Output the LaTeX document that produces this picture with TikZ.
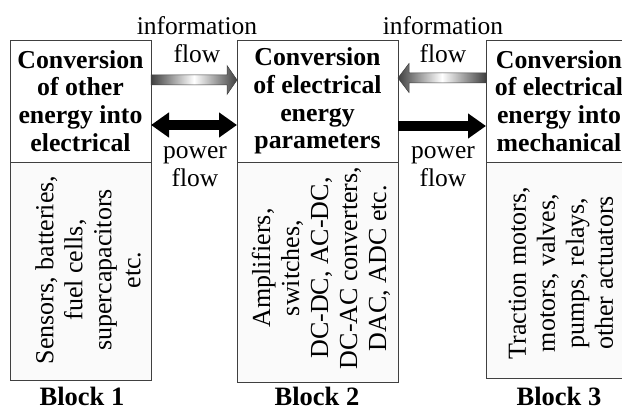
\documentclass[tikz,border=0pt]{standalone}
\usepackage{fontspec}
\setmainfont{Liberation Serif}
\usetikzlibrary{arrows.meta,positioning,calc}
\tikzset{
  headbox/.style={draw=black!75, line width=0.8pt, outer sep=0pt, inner sep=0pt, minimum height=122pt, align=center, font=\fontsize{25.8}{27.7}\selectfont\bfseries},
  bodybox/.style={draw=black!75, line width=0.8pt, outer sep=0pt, fill=black!2},
  bodytext/.style={rotate=90, align=center, font=\fontsize{26}{29}\selectfont},
  flowlabel/.style={align=center, font=\fontsize{25.5}{28}\selectfont},
  blocklabel/.style={font=\fontsize{26.5}{30}\selectfont\bfseries},
  powertip/.tip={Triangle[length=18pt,width=24pt]},
  powerarrow/.style={line width=10pt, -powertip},
  infoarrow/.style={draw=black!75, line width=0.5pt, left color=black!75, right color=black!75, middle color=white},
}
\begin{document}
\begin{tikzpicture}[x=1pt,y=-1pt]
  \useasboundingbox (0,0) rectangle (622,412);
  \clip (0,0) rectangle (622,412);
  % Block headers
  \node[headbox, minimum width=141pt] (h1) at (80.5,101) {Conversion\\of other\\energy into\\electrical};
  \node[headbox, minimum width=161pt] (h2) at (317.5,101) {Conversion\\of electrical\\energy\\parameters};
  \node[headbox, minimum width=146pt] (h3) at (559,101) {Conversion\\of electrical\\energy into\\mechanical};
  % Block bodies
  \node[bodybox, below=0pt of h1, minimum width=141pt, minimum height=218pt] (b1) {};
  \node[bodybox, below=0pt of h2, minimum width=161pt, minimum height=220pt] (b2) {};
  \node[bodybox, below=0pt of h3, minimum width=146pt, minimum height=216pt] (b3) {};
  \node[bodytext] (t1) at (88,270) {Sensors, batteries,\\fuel cells,\\supercapacitors\\etc.};
  \node[bodytext] (t2) at (321,268) {Amplifiers,\\switches,\\DC-DC, AC-DC,\\DC-AC converters,\\DAC, ADC etc.};
  \node[bodytext] (t3) at (561,273) {Traction motors,\\motors, valves,\\pumps, relays,\\other actuators};
  % Information flow
  \shadedraw[infoarrow] ($(h1.east)+(0,-26)$) -- ($(h2.west)+(-10,-26)$) -- ($(h2.west)+(-10,-35.5)$)
    -- ($(h2.west)+(0,-21)$) -- ($(h2.west)+(-10,-6.5)$) -- ($(h2.west)+(-10,-16)$) -- ($(h1.east)+(0,-16)$) -- cycle;
  \shadedraw[infoarrow] ($(h3.west)+(0,-28)$) -- ($(h2.east)+(11,-28)$) -- ($(h2.east)+(11,-37.5)$)
    -- ($(h2.east)+(0,-23)$) -- ($(h2.east)+(11,-8.5)$) -- ($(h2.east)+(11,-18)$) -- ($(h3.west)+(0,-18)$) -- cycle;
  % Power flow
  \draw[powerarrow, powertip-powertip] ($(h1.east)+(0,24)$) -- ($(h2.west)+(0,24)$);
  \draw[powerarrow] ($(h2.east)+(0,25)$) -- ($(h3.west)+(0,25)$);
  % Labels
  \node[flowlabel] (info1) at (197,40) {information\\flow};
  \node[flowlabel] (info2) at (443,40) {information\\flow};
  \node[flowlabel] (pow1) at (195,167) {power\\flow};
  \node[flowlabel] (pow2) at (443,167) {power\\flow};
  \node[blocklabel] (l1) at (82,396) {Block 1};
  \node[blocklabel] (l2) at (317,396) {Block 2};
  \node[blocklabel] (l3) at (559,396) {Block 3};
\end{tikzpicture}
\end{document}
